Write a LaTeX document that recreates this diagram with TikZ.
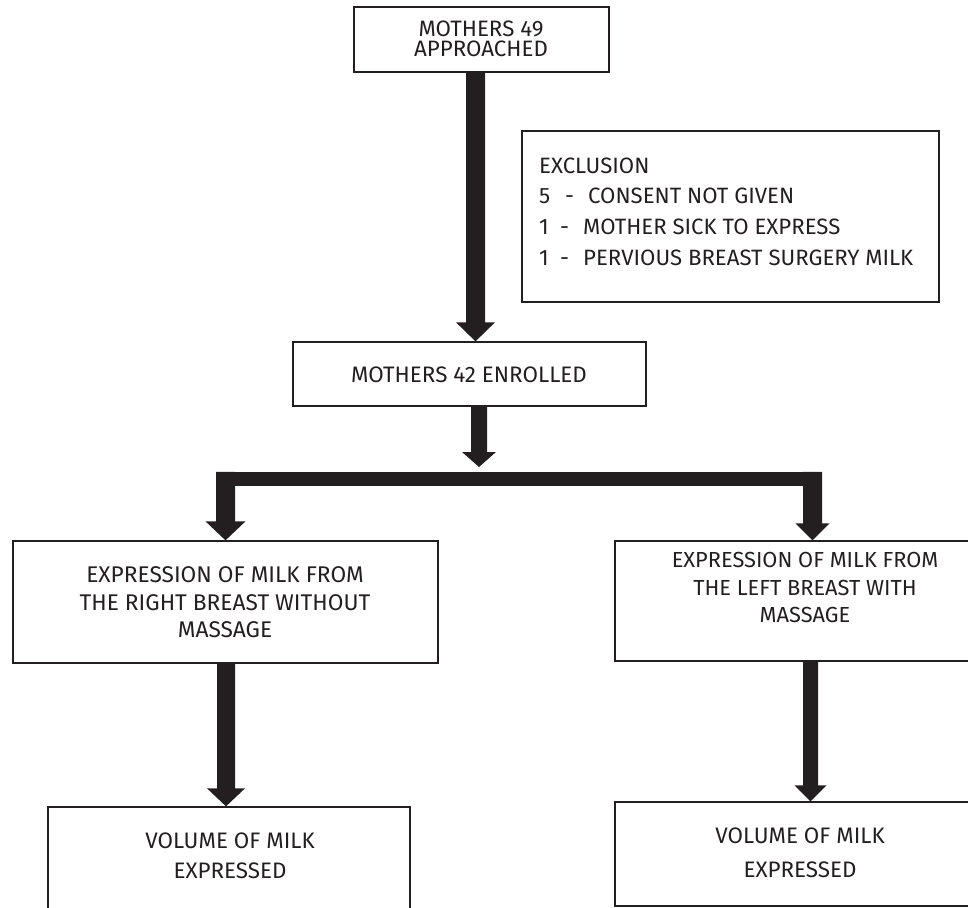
\documentclass[tikz,border=0pt]{standalone}
\usepackage{fontspec}
\setmainfont{Fira Sans}
\usetikzlibrary{calc}
\definecolor{ink}{HTML}{231F20}
\newcommand\blockarr[6]{%
  \fill[arr] ($(#1|-#2)+(-#4,0)$) -- ($(#1|-#3)+(-#4,-#6)$) -- ($(#1|-#3)+(-#5,-#6)$) -- (#1|-#3)
    -- ($(#1|-#3)+(#5,-#6)$) -- ($(#1|-#3)+(#4,-#6)$) -- ($(#1|-#2)+(#4,0)$) -- cycle;}
\begin{document}
\begin{tikzpicture}[x=1pt,y=-1pt,
  box/.style={draw=ink, line width=1.3pt, inner sep=0pt, rectangle},
  arr/.style={fill=ink},
  lbl/.style={inner sep=0pt, text=ink, align=center}]
\useasboundingbox (0,0) rectangle (968,907);
\clip (0,0) rectangle (968,907);
% boxes
\node[box, minimum width=255pt, minimum height=65pt] (top) at (481.5,39.5) {};
\node[box, minimum width=417pt, minimum height=171pt] (excl) at (730.5,216.5) {};
\node[box, minimum width=353pt, minimum height=64pt] (enr) at (469.5,374) {};
\node[box, minimum width=425pt, minimum height=122pt] (lbox) at (225.5,602) {};
\node[box, minimum width=385pt, minimum height=120pt] (rbox) at (807.5,601) {};
\node[box, minimum width=362pt, minimum height=153pt] (lres) at (229,883.5) {};
\node[box, minimum width=385pt, minimum height=104pt] (rres) at (807.5,854) {};
% texts
\node[lbl, font=\fontsize{22.3}{20}\selectfont] (ttop) at (481,39) {MOTHERS 49\\APPROACHED};
\node[lbl, align=left, anchor=west, font=\fontsize{22.2}{30.7}\selectfont] (texcl) at (539,211.5)
  {EXCLUSION\\
   \makebox[26pt][l]{5}\makebox[23pt][l]{-}CONSENT NOT GIVEN\\
   \makebox[21pt][l]{1}\makebox[23pt][l]{-}MOTHER SICK TO EXPRESS\\
   \makebox[21pt][l]{1}\makebox[23pt][l]{-}PERVIOUS BREAST SURGERY MILK};
\node[lbl, font=\fontsize{22.4}{27}\selectfont] (tenr) at (469,375) {MOTHERS 42 ENROLLED};
\node[lbl, font=\fontsize{22.7}{27.5}\selectfont] (tl) at (225,602.5) {EXPRESSION OF MILK FROM\\THE RIGHT BREAST WITHOUT\\MASSAGE};
\node[lbl, font=\fontsize{21.8}{27.5}\selectfont] (tr) at (805,587.5) {EXPRESSION OF MILK FROM\\THE LEFT BREAST WITH\\MASSAGE};
\node[lbl, font=\fontsize{22.4}{30}\selectfont] (tlr) at (230,855.5) {VOLUME OF MILK\\EXPRESSED};
\node[lbl, font=\fontsize{22.4}{34}\selectfont] (trr) at (800,852.5) {VOLUME OF MILK\\EXPRESSED};
% split bar
\node[fill=ink, inner sep=0pt, minimum width=606pt, minimum height=14pt] (bar) at (519,479) {};
\coordinate (split) at (479,467);
% shaft positions
\coordinate (c1) at (475.5,0);
\coordinate (c2) at (479,0);
\coordinate (c3) at (225.5,0);
\coordinate (c4) at (812.5,0);
\coordinate (c5) at (226,0);
\coordinate (c6) at (810.5,0);
% arrows
\blockarr{c1}{top.south}{enr.north}{9.5}{19.5}{19}
\blockarr{c2}{enr.south}{split}{8}{17}{15}
\blockarr{c3}{bar.north}{lbox.north}{9.5}{20}{19}
\blockarr{c4}{bar.north}{rbox.north}{9.5}{17}{17}
\blockarr{c5}{lbox.south}{lres.north}{9}{19}{18}
\blockarr{c6}{rbox.south}{rres.north}{7.5}{16}{16}
\end{tikzpicture}
\end{document}
